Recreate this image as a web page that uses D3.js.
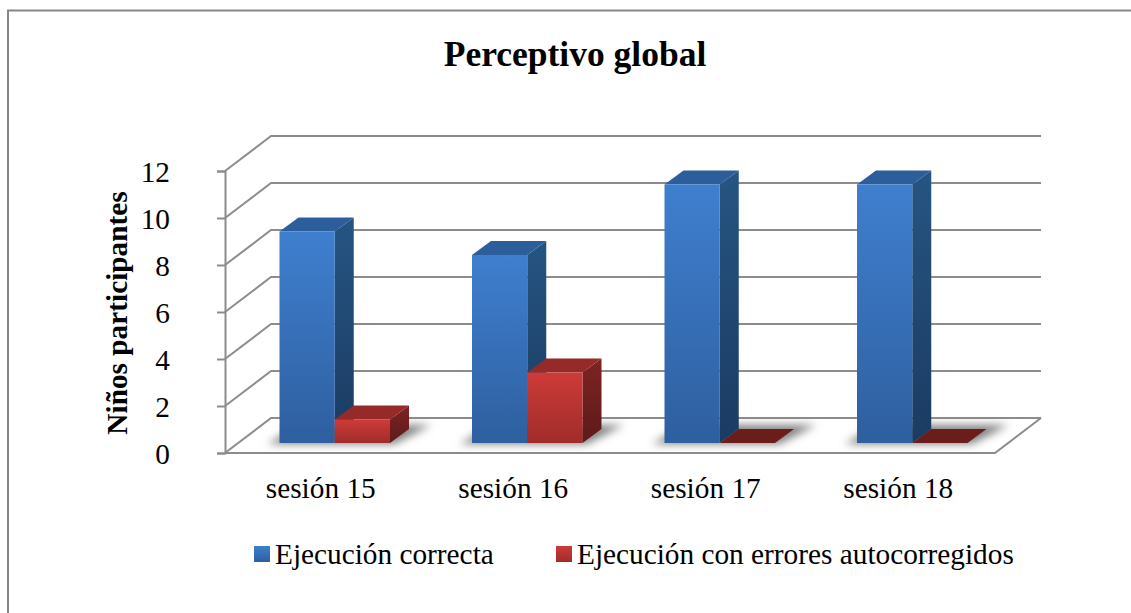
<!DOCTYPE html>
<html>
<head>
<meta charset="utf-8">
<script src="https://cdn.jsdelivr.net/npm/d3@7/dist/d3.min.js"></script>
<style>
html,body{margin:0;padding:0;background:#fff;}
svg{display:block;}
text{font-family:"Liberation Serif","Times New Roman",serif;fill:#000;}
</style>
</head>
<body>
<svg id="chart" width="1131" height="613"></svg>
<script>
// Chart content
const chartTitle = "Perceptivo global";
const yAxisTitle = "Niños participantes";
const categories = ["sesión 15", "sesión 16", "sesión 17", "sesión 18"];
const seriesNames = ["Ejecución correcta", "Ejecución con errores autocorregidos"];
const correctValues = [9, 8, 11, 11];
const correctedValues = [1, 3, 0, 0];
const yTicks = [0, 2, 4, 6, 8, 10, 12];

const svg = d3.select("#chart");
const defs = svg.append("defs");

// Plot frame: front plane of the 3D box, plus the depth vectors
const plot = {left: 225, right: 995, bottom: 453, top: 171};
const wall = {dx: 46, dy: -35};       // floor front edge to back wall
const barDepth = {dx: 19, dy: -14};   // depth of each column
const barLift = 10;                   // columns stand this far back on the floor

const y = d3.scaleLinear().domain([0, 12]).range([plot.bottom, plot.top]);
const x0 = d3.scaleBand().domain(categories).range([plot.left, plot.right]);
const x1 = d3.scaleBand().domain(seriesNames).range([54.5, 165]);

const palette = [
  {front: ["#3f7fcf", "#2e5f9f"], side: ["#265583", "#1b3b62"], top: "#2b5e9b"},
  {front: ["#cd3b38", "#a02c2a"], side: ["#7e2323", "#5e1a1a"], top: "#962a29"}
];
const flatTop = "#6b1d1c";

function vGradient(id, c) {
  const g = defs.append("linearGradient").attr("id", id)
    .attr("x1", 0).attr("y1", 0).attr("x2", 0).attr("y2", 1);
  g.append("stop").attr("offset", "0%").attr("stop-color", c[0]);
  g.append("stop").attr("offset", "100%").attr("stop-color", c[1]);
}
palette.forEach((p, i) => {
  vGradient("front" + i, p.front);
  vGradient("side" + i, p.side);
});
defs.append("filter").attr("id", "soft")
  .attr("x", "-30%").attr("y", "-60%").attr("width", "160%").attr("height", "220%")
  .append("feGaussianBlur").attr("stdDeviation", 4.5);

const poly = pts => d3.line()(pts) + "Z";
const gridColor = "#8c8c8c";

// Outer chart border, open on the right and bottom
svg.append("path")
  .attr("d", "M8,613V10.5H1131")
  .attr("fill", "none").attr("stroke", "#868686").attr("stroke-width", 2);

// Back wall and side wall gridlines
const grid = svg.append("g").attr("fill", "none").attr("stroke", gridColor).attr("stroke-width", 2);
yTicks.forEach(t => {
  const yy = y(t);
  grid.append("path").attr("d", d3.line()([
    [plot.left, yy],
    [plot.left + wall.dx, yy + wall.dy],
    [plot.right + wall.dx, yy + wall.dy]
  ]));
});

// Floor outline
grid.append("path").attr("d", d3.line()([
  [plot.left, plot.bottom],
  [plot.right, plot.bottom],
  [plot.right + wall.dx, plot.bottom + wall.dy]
]));

// Y axis with outward ticks
const yAxis = d3.axisLeft(y).tickValues(yTicks).tickSize(8).tickPadding(47).tickFormat(d3.format("d"));
const axisG = svg.append("g").attr("transform", `translate(${plot.left},0)`).call(yAxis);
axisG.selectAll("line, path").attr("stroke", gridColor).attr("stroke-width", 2);
axisG.selectAll("text").attr("font-size", 29.3).attr("font-family", '"Liberation Serif"').attr("fill", "#000")
  .attr("transform", "translate(0,1)");

// Columns
const baseY = plot.bottom - barLift;
const barG = svg.append("g");

// One soft shadow per category, lying on the floor behind the columns
categories.forEach(c => {
  const l = x0(c) + x1(seriesNames[0]);
  const r = x0(c) + x1(seriesNames[1]) + x1.bandwidth();
  barG.append("path")
    .attr("d", poly([
      [l - 12, baseY + 1],
      [r + 4, baseY + 1],
      [r + barDepth.dx + 22, baseY + barDepth.dy - 4],
      [l + 20, baseY + barDepth.dy - 4]
    ]))
    .attr("fill", "#7f7f7f").attr("filter", "url(#soft)");
});

const seriesValues = [correctValues, correctedValues];
categories.forEach((c, ci) => {
  // Left series first: the red column's faces sit over the blue column's side
  [0, 1].forEach(si => {
    const v = seriesValues[si][ci];
    const xl = x0(c) + x1(seriesNames[si]);
    const xr = xl + x1.bandwidth();
    const yt = y(v) - barLift;
    const {dx, dy} = barDepth;
    const g = barG.append("g");
    if (v === 0) {
      g.append("path").attr("d", poly([[xl, baseY], [xr, baseY], [xr + dx, baseY + dy], [xl + dx, baseY + dy]]))
        .attr("fill", flatTop);
      return;
    }
    g.append("path").attr("d", poly([[xr, yt], [xr + dx, yt + dy], [xr + dx, baseY + dy], [xr, baseY]]))
      .attr("fill", `url(#side${si})`);
    g.append("path").attr("d", poly([[xl, yt], [xr, yt], [xr + dx, yt + dy], [xl + dx, yt + dy]]))
      .attr("fill", palette[si].top);
    g.append("rect").attr("x", xl).attr("y", yt).attr("width", xr - xl).attr("height", baseY - yt)
      .attr("fill", `url(#front${si})`);
  });
});

// Category labels
svg.append("g").selectAll("text").data(categories).join("text")
  .attr("x", d => x0(d) + x0.bandwidth() / 2 - 0.5)
  .attr("y", 497.5)
  .attr("text-anchor", "middle").attr("font-size", 29.3)
  .text(d => d);

// Title and y-axis title
svg.append("text").attr("x", 575).attr("y", 66).attr("text-anchor", "middle")
  .attr("font-size", 35.5).attr("font-weight", "bold").text(chartTitle);
svg.append("text").attr("transform", "translate(127,313) rotate(-90)")
  .attr("text-anchor", "middle").attr("font-size", 29.3).attr("font-weight", "bold").text(yAxisTitle);

// Legend
const legendX = [254, 556];
const legend = svg.append("g").selectAll("g").data(seriesNames).join("g")
  .attr("transform", (d, i) => `translate(${legendX[i]},546)`);
legend.append("rect").attr("width", 16).attr("height", 16)
  .attr("fill", (d, i) => `url(#front${i})`);
legend.append("text").attr("x", 21).attr("y", 17.5).attr("font-size", 29.3).text(d => d);
</script>
</body>
</html>
